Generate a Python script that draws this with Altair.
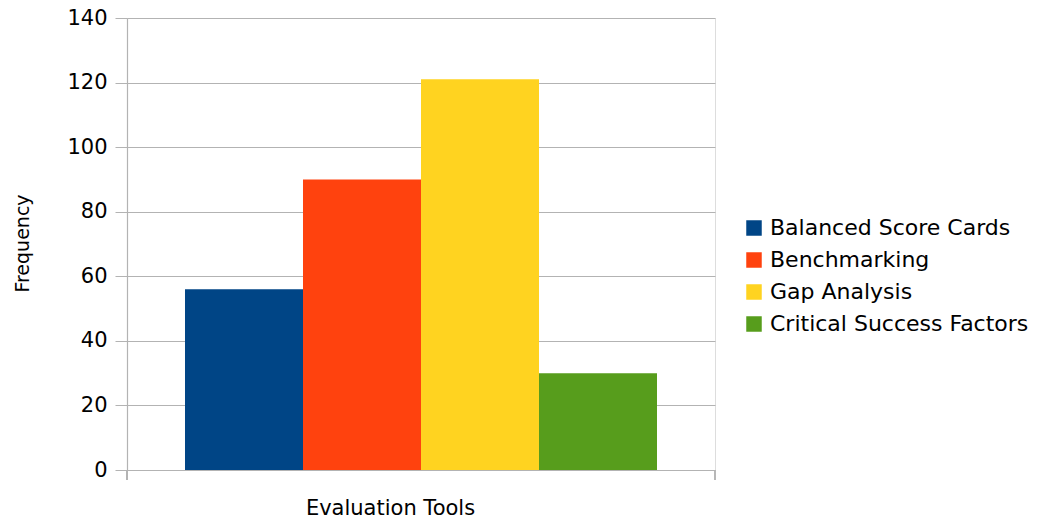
import altair as alt
import pandas as pd

tools = ["Balanced Score Cards", "Benchmarking", "Gap Analysis", "Critical Success Factors"]
freq = [56, 90, 121, 30]
colors = ["#004586", "#ff420e", "#ffd320", "#579d1c"]
y_ticks = [0, 20, 40, 60, 80, 100, 120, 140]

df = pd.DataFrame({"Tool": tools, "Frequency": freq})

W, H = 588, 452
FONT = "DejaVu Sans"

bars = alt.Chart(df).mark_bar().encode(
    x=alt.X("Tool:N", sort=tools,
            scale=alt.Scale(paddingInner=0, paddingOuter=0.4915),
            axis=alt.Axis(labels=False, ticks=False, domain=False, grid=False,
                          title="Evaluation Tools", titleFontSize=21, titleFont=FONT,
                          titleFontWeight="normal", titleColor="#000000",
                          titleX=263, titleY=44, titleBaseline="alphabetic",
                          titleAlign="center")),
    y=alt.Y("Frequency:Q", scale=alt.Scale(domain=[0, 140], nice=False),
            axis=alt.Axis(values=y_ticks, title="Frequency", titleFontSize=19,
                          titleFont=FONT, titleFontWeight="normal", titleColor="#000000",
                          titleX=-105, titleY=225, titleBaseline="middle",
                          titleAlign="center", titleAngle=-90,
                          labelFontSize=21, labelFont=FONT, labelColor="#000000",
                          labelPadding=8, tickSize=12, tickColor="#b3b3b3",
                          domainColor="#b3b3b3", gridColor="#b3b3b3",
                          tickWidth=1, domainWidth=1.2)),
    color=alt.Color("Tool:N", sort=tools,
                    scale=alt.Scale(domain=tools, range=colors),
                    legend=alt.Legend(title=None, orient="none", legendX=616, legendY=199,
                                      symbolType="square", symbolSize=240,
                                      symbolStrokeWidth=0, labelFontSize=22,
                                      labelFont=FONT, labelColor="#000000",
                                      labelLimit=400,
                                      rowPadding=10, labelOffset=5)),
)

edge_right = alt.Chart(df).mark_rule(color="#b3b3b3", strokeWidth=1).encode(
    x=alt.value(W), y=alt.value(H), y2=alt.value(H + 10)
)
edge_left = alt.Chart(df).mark_rule(color="#b3b3b3", strokeWidth=1.2).encode(
    x=alt.value(0), y=alt.value(H), y2=alt.value(H + 10)
)

chart = alt.layer(bars, edge_right, edge_left).properties(
    width=W, height=H,
    autosize=alt.AutoSizeParams(type="none"),
    padding={"left": 127, "top": 18, "right": 342, "bottom": 50},
).configure_view(stroke=None).configure(background="white")

chart.save("out.html", embed_options={"renderer": "svg", "actions": False})
